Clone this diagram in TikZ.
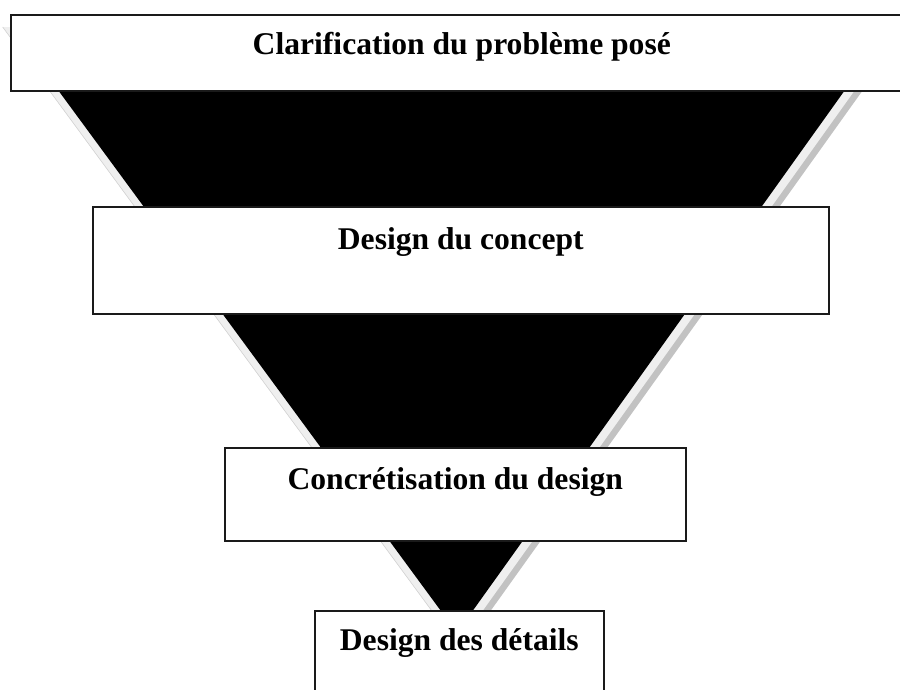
\documentclass[tikz,border=0pt]{standalone}
\usepackage{fontspec}
\setmainfont{Liberation Serif}
\definecolor{bevellight}{HTML}{EFEFEF}
\definecolor{beveldark}{HTML}{C2C2C2}
\definecolor{bevelline}{HTML}{D4D4D4}
\definecolor{frame}{HTML}{1A1A1A}
\tikzset{
  stage/.style={draw=frame, line width=1.6pt, fill=white, inner sep=0pt,
    anchor=north west, align=center,
    font=\bfseries\fontsize{31.6}{36}\selectfont},
}
\begin{document}
\begin{tikzpicture}[x=1pt,y=-1pt]
\useasboundingbox (0,0) rectangle (900,689);

% funnel: bevel bands behind the black inverted triangle
\fill[beveldark] (2.7,27) -- (908,27) -- (461.6,651.4) -- cycle;
\fill[bevellight] (2.7,27) -- (900,27) -- (457.6,645.9) -- cycle;
\draw[bevelline, line width=0.6pt] (2.7,27) -- (457.6,645.9);
\fill[black] (11.7,27) -- (890,27) -- (457,632.8) -- cycle;

% the four stages
\node[stage, minimum width=902pt, text height=40pt, text depth=36pt]
  (clarif) at (10,14) {Clarification du problème posé};
\node[stage, minimum width=736pt, text height=43pt, text depth=64pt]
  (concept) at (92,206) {Design du concept};
\node[stage, minimum width=461pt, text height=42pt, text depth=51pt]
  (concret) at (224,447) {Concrétisation du design};
\node[stage, minimum width=289pt, text height=40pt, text depth=90pt]
  (details) at (314,610) {Design des détails};
\end{tikzpicture}
\end{document}
